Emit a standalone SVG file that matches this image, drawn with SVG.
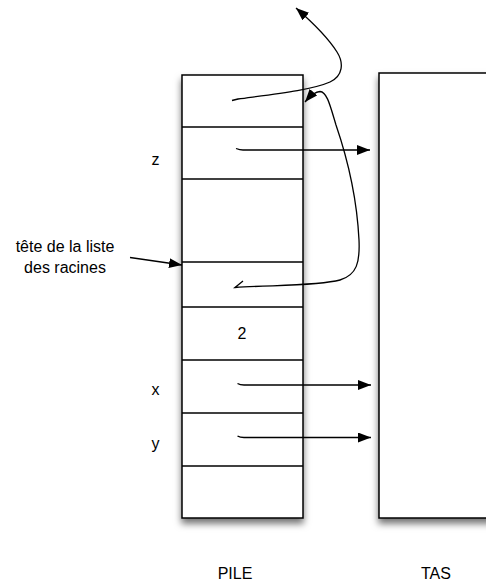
<svg xmlns="http://www.w3.org/2000/svg" width="486" height="583" viewBox="0 0 486 583">
<style>
.box{fill:#fff;stroke:#000;stroke-width:1.5}
.sep{stroke:#000;stroke-width:1.5;fill:none}
.t{font-family:"Liberation Sans",Arial,sans-serif;font-size:16px;fill:#000}
.c{fill:none;stroke:#000;stroke-width:1.3}
</style>
<defs>
<filter id="sh" x="-20%" y="-10%" width="140%" height="130%">
<feDropShadow dx="0" dy="5" stdDeviation="3.5" flood-color="#000" flood-opacity="0.55"/>
</filter>
<marker id="ah" markerUnits="userSpaceOnUse" markerWidth="14" markerHeight="10" refX="13" refY="5" orient="auto">
<path d="M0,0 L13,5 L0,10 Z" fill="#000"/>
</marker>
</defs>
<g id="tas">
<rect class="box" x="379" y="73" width="130" height="445" filter="url(#sh)"/>
</g>
<g id="pile">
<rect class="box" x="182" y="75" width="121" height="443" filter="url(#sh)"/>
<line class="sep" x1="182" y1="127" x2="303" y2="127"/>
<line class="sep" x1="182" y1="179" x2="303" y2="179"/>
<line class="sep" x1="182" y1="262" x2="303" y2="262" stroke-width="1"/>
<line class="sep" x1="182" y1="307" x2="303" y2="307"/>
<line class="sep" x1="182" y1="360" x2="303" y2="360"/>
<line class="sep" x1="182" y1="413" x2="303" y2="413"/>
<line class="sep" x1="182" y1="466" x2="303" y2="466"/>
<text class="t" x="242" y="339" text-anchor="middle">2</text>
</g>
<g id="labels">
<text class="t" x="155.5" y="165" text-anchor="middle">z</text>
<text class="t" x="155.5" y="395" text-anchor="middle">x</text>
<text class="t" x="155.5" y="449" text-anchor="middle">y</text>
<text class="t" x="65" y="252" text-anchor="middle">tête de la liste</text>
<text class="t" x="65" y="273" text-anchor="middle">des racines</text>
<text class="t" x="235" y="579" text-anchor="middle">PILE</text>
<text class="t" x="436" y="579" text-anchor="middle">TAS</text>
</g>
<g id="connectors">
<path class="c" d="M236,148.5 Q240,150 243,150 L370,150" marker-end="url(#ah)"/>
<path class="c" d="M237.5,383.5 Q240,385 244,385 L371,385" marker-end="url(#ah)"/>
<path class="c" d="M237.5,436 Q240,437.5 244,437.5 L371,437.5" marker-end="url(#ah)"/>
<path class="c" d="M130,257.5 L182,265" marker-end="url(#ah)"/>
<path class="c" d="M232,100.5 L238,99 C275,94 312,90 330,82 C343,76 344,63 337,52 C327,36 312,22 296,8" marker-end="url(#ah)"/>
<path class="c" d="M243,281 L235,287.5 C270,285 318,286 340,280 C357,275 360,262 359,240 C357,200 348,160 336,125 C330,105 327,92 320,91.5 C316,91.5 311,95 305,102" marker-end="url(#ah)"/>
</g>
</svg>
